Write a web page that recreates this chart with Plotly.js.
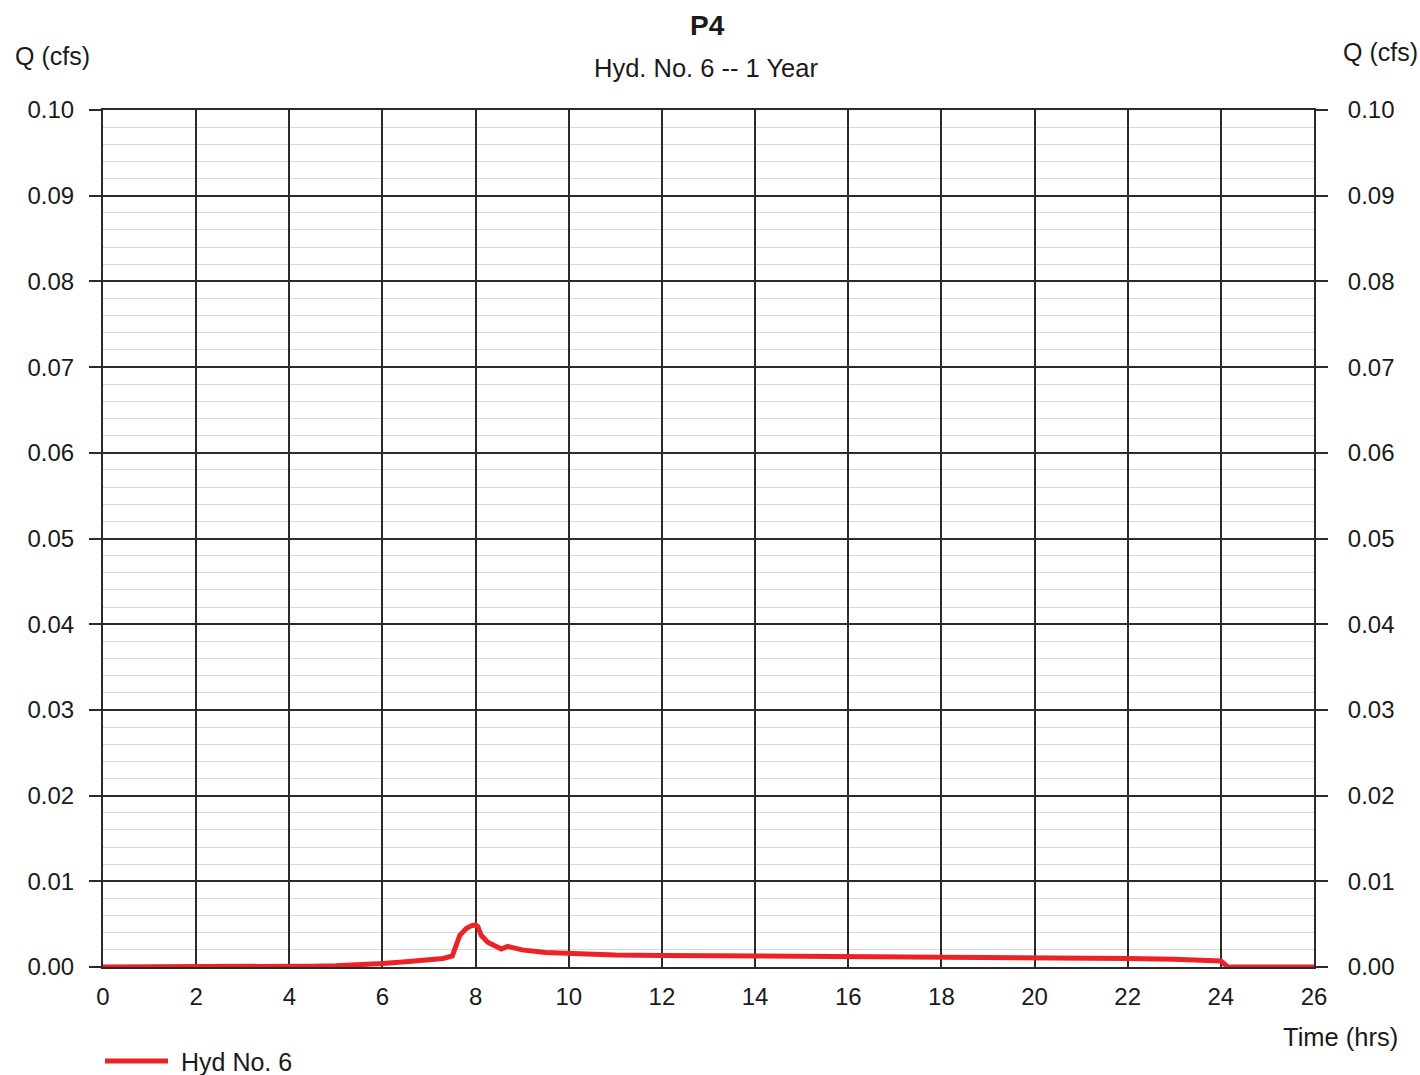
<!DOCTYPE html>
<html>
<head>
<meta charset="utf-8">
<script src="https://cdn.plot.ly/plotly-3.0.1.min.js"></script>
<style>
  html, body { margin: 0; padding: 0; background: #ffffff; overflow: hidden; }
  #chart { width: 1420px; height: 1075px; }
</style>
</head>
<body>
<div id="chart"></div>
<script>
// ---- data ----
const timeHrs = [0, 1, 2, 3, 4, 4.5, 5, 5.5, 6, 6.5, 7, 7.3, 7.5, 7.58, 7.66, 7.8, 7.9, 8.0, 8.05, 8.12, 8.26, 8.4, 8.55, 8.69, 9.0, 9.5, 10, 11, 12, 14, 16, 18, 20, 22, 23, 24.0, 24.15, 25, 26];
const flowCfs = [0, 0, 0.00002, 0.00003, 0.00005, 0.0001, 0.00015, 0.00025, 0.0004, 0.0006, 0.0008, 0.001, 0.0013, 0.0026, 0.0037, 0.0045, 0.0048, 0.0049, 0.0047, 0.0037, 0.0029, 0.0025, 0.0021, 0.0024, 0.002, 0.0017, 0.0016, 0.0014, 0.00135, 0.0013, 0.00125, 0.0012, 0.0011, 0.001, 0.0009, 0.0007, 0, 0, 0];
const seriesName = 'Hyd No. 6';
const xTickVals = [0, 2, 4, 6, 8, 10, 12, 14, 16, 18, 20, 22, 24, 26];
const yTickVals = [0, 0.01, 0.02, 0.03, 0.04, 0.05, 0.06, 0.07, 0.08, 0.09, 0.10];
const chartTitle = 'P4';
const chartSubtitle = 'Hyd. No. 6 -- 1 Year';
const yTitle = 'Q (cfs)';
const xTitle = 'Time (hrs)';

// ---- layout helpers (pixel -> paper) ----
const M = { l: 103, r: 106, t: 110, b: 108 };
const W = 1420, H = 1075;
const pw = W - M.l - M.r, ph = H - M.t - M.b;
const px = x => (x - M.l) / pw;
const py = y => (H - M.b - y) / ph;

const FONT = 'Liberation Sans, Arial, sans-serif';
const INK = '#1a1a1a';
const GRID = '#2b2b2b';
const TICKFONT = { size: 24, family: FONT, color: INK };

const trace = {
  x: timeHrs, y: flowCfs, type: 'scatter', mode: 'lines', name: seriesName,
  line: { color: '#ec2227', width: 5 }, showlegend: false, hoverinfo: 'x+y'
};
const ghost = { x: [0, 26], y: [0, 0.1], type: 'scatter', mode: 'none', yaxis: 'y2', showlegend: false, hoverinfo: 'skip' };

const layout = {
  width: W, height: H,
  margin: M,
  paper_bgcolor: '#ffffff', plot_bgcolor: '#ffffff',
  font: { family: FONT, color: INK, size: 24 },
  showlegend: false,
  xaxis: {
    range: [0, 26], tickvals: xTickVals, ticks: '', ticklabelstandoff: 7,
    showgrid: true, gridcolor: GRID, gridwidth: 2,
    showline: true, linecolor: GRID, linewidth: 2, mirror: true,
    zeroline: false, tickfont: TICKFONT, fixedrange: true
  },
  yaxis: {
    range: [0, 0.10], tickvals: yTickVals, tickformat: '.2f',
    ticks: 'outside', ticklen: 12, tickwidth: 2, tickcolor: GRID, ticklabelstandoff: 10,
    showgrid: true, gridcolor: GRID, gridwidth: 2,
    minor: { dtick: 0.002, showgrid: true, gridcolor: '#d8d8d8', gridwidth: 1, ticks: '' },
    showline: true, linecolor: GRID, linewidth: 2, mirror: true,
    zeroline: false, tickfont: TICKFONT, fixedrange: true
  },
  yaxis2: {
    range: [0, 0.10], tickvals: yTickVals, tickformat: '.2f', overlaying: 'y', side: 'right',
    ticks: 'outside', ticklen: 12, tickwidth: 2, tickcolor: GRID, ticklabelstandoff: 15,
    showgrid: false, showline: true, linecolor: GRID, linewidth: 2, zeroline: false,
    tickfont: TICKFONT, fixedrange: true
  },
  shapes: [
    { type: 'line', xref: 'paper', yref: 'paper', x0: px(105), x1: px(168), y0: py(1061), y1: py(1061),
      line: { color: '#ec2227', width: 5 } }
  ],
  annotations: [
    { text: '<b>' + chartTitle + '</b>', xref: 'paper', yref: 'paper', x: px(707), y: py(26), showarrow: false,
      xanchor: 'center', yanchor: 'middle', font: { size: 28, family: FONT, color: INK } },
    { text: chartSubtitle, xref: 'paper', yref: 'paper', x: px(706), y: py(68), showarrow: false,
      xanchor: 'center', yanchor: 'middle', font: { size: 25.5, family: FONT, color: INK } },
    { text: yTitle, xref: 'paper', yref: 'paper', x: px(52), y: py(56), showarrow: false,
      xanchor: 'center', yanchor: 'middle', font: { size: 25, family: FONT, color: INK } },
    { text: yTitle, xref: 'paper', yref: 'paper', x: px(1380), y: py(52), showarrow: false,
      xanchor: 'center', yanchor: 'middle', font: { size: 25, family: FONT, color: INK } },
    { text: xTitle, xref: 'paper', yref: 'paper', x: px(1340), y: py(1037), showarrow: false,
      xanchor: 'center', yanchor: 'middle', font: { size: 25.5, family: FONT, color: INK } },
    { text: seriesName, xref: 'paper', yref: 'paper', x: px(179), y: py(1062), showarrow: false,
      xanchor: 'left', yanchor: 'middle', font: { size: 25, family: FONT, color: INK } }
  ]
};

Plotly.newPlot('chart', [trace, ghost], layout, { displayModeBar: false, staticPlot: true });
</script>
</body>
</html>
